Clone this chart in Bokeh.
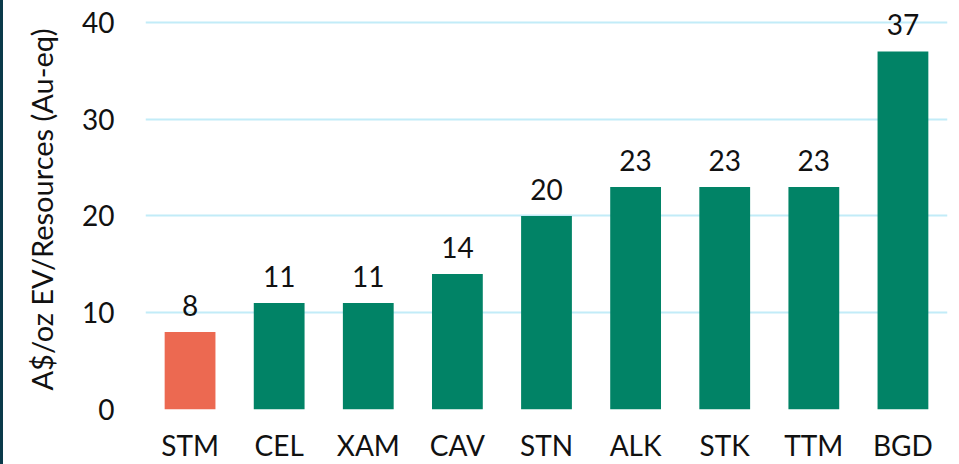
from bokeh.plotting import figure
from bokeh.models import ColumnDataSource, Range1d, FixedTicker
from bokeh.core.properties import value
from bokeh.embed import file_html
from bokeh.resources import INLINE

companies = ["STM", "CEL", "XAM", "CAV", "STN", "ALK", "STK", "TTM", "BGD"]
ev_per_oz = [8, 11, 11, 14, 20, 23, 23, 23, 37]
bar_colors = ["#EC6951"] + ["#018366"] * 8
y_ticks = [0, 10, 20, 30, 40]

FONT = "Lato"

src = ColumnDataSource(dict(x=companies, top=ev_per_oz, color=bar_colors,
                            label=[str(v) for v in ev_per_oz]))

p = figure(x_range=companies, y_range=Range1d(0, 41.34), width=959, height=464,
           output_backend="svg", toolbar_location=None,
           min_border_left=145, min_border_right=12, min_border_top=9, min_border_bottom=55)
p.outline_line_color = None
p.background_fill_color = "white"
p.border_fill_color = None

p.vbar(x="x", top="top", width=0.57, color="color", source=src, line_color=None)
p.text(x="x", y="top", text="label", source=src, text_align="center",
       text_baseline="bottom", y_offset=-16, text_font=value(FONT),
       text_font_size="28px", text_color="#111111")

p.xgrid.grid_line_color = None
p.ygrid.grid_line_color = "#C2ECF8"
p.ygrid.grid_line_width = 2
p.yaxis.ticker = FixedTicker(ticks=y_ticks)

for ax in (p.xaxis[0], p.yaxis[0]):
    ax.axis_line_color = None
    ax.major_tick_line_color = None
    ax.minor_tick_line_color = None
    ax.major_tick_out = 0
    ax.major_tick_in = 0
    ax.major_label_text_font = FONT
    ax.major_label_text_font_size = "28px"
    ax.major_label_text_color = "#111111"

p.xaxis.major_label_standoff = 18
p.yaxis.major_label_standoff = 31
p.yaxis.axis_label = "A$/oz EV/Resources (Au-eq)"
p.yaxis.axis_label_text_font = FONT
p.yaxis.axis_label_text_font_size = "29px"
p.yaxis.axis_label_text_font_style = "normal"
p.yaxis.axis_label_text_color = "#111111"
p.yaxis.axis_label_standoff = 20

html = file_html(p, INLINE)
html = html.replace("<head>", "<head><style>html{background:#fff; box-shadow: inset 3px 0 0 #0B3A4A;}</style>", 1)
open("out.html", "w").write(html)
